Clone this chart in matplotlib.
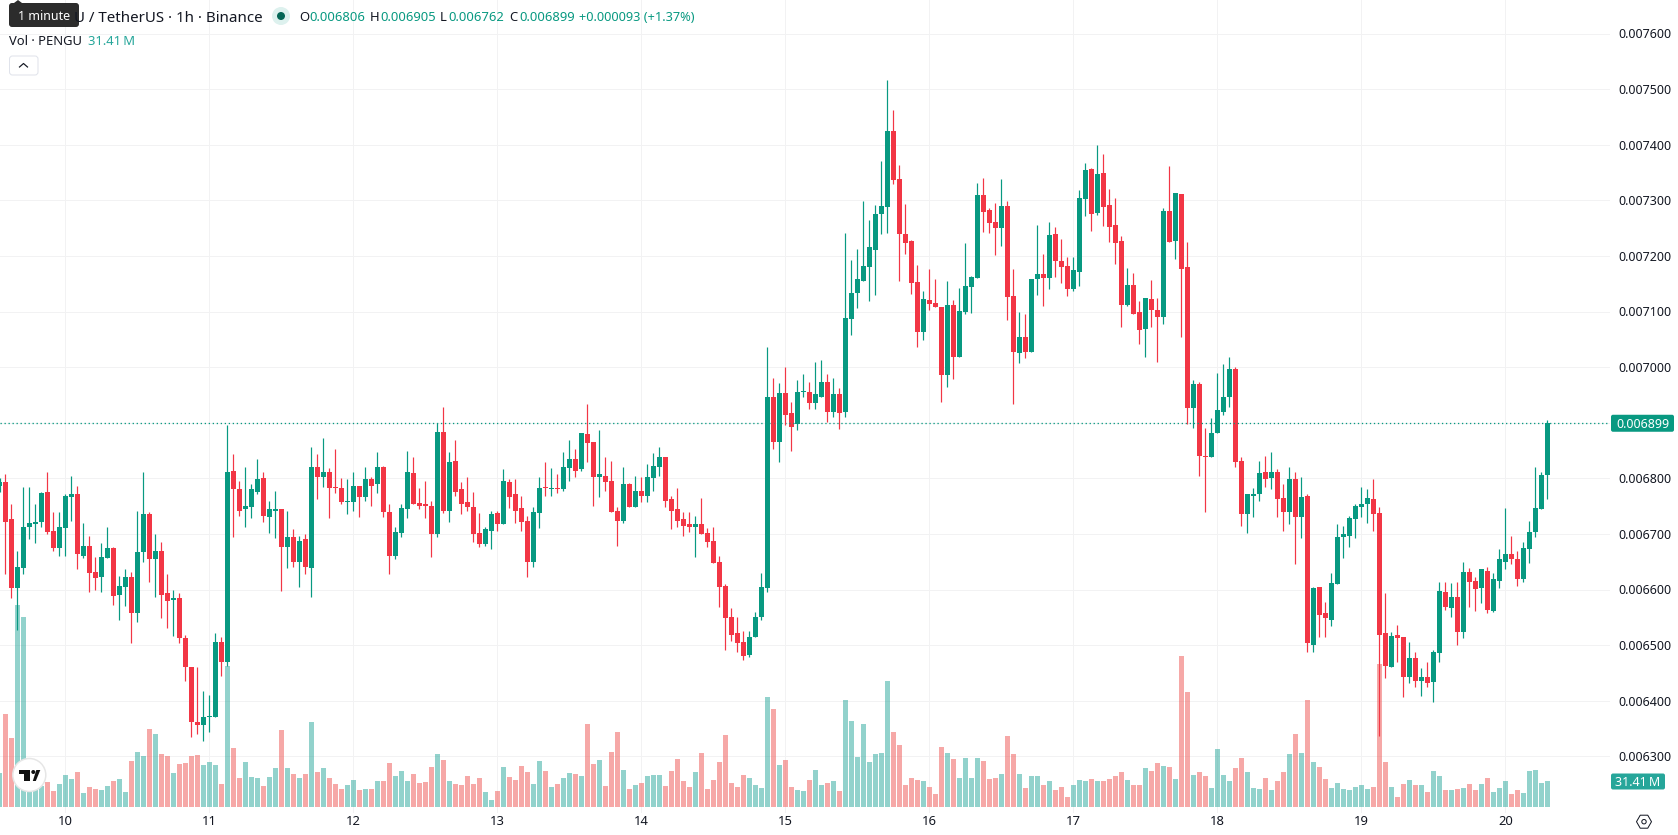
"""Hourly PENGU/USDT candles with volume, drawn in the TradingView light layout."""

import numpy as np
import matplotlib
matplotlib.use("Agg")
import matplotlib.pyplot as plt
from matplotlib.patches import Circle, FancyBboxPatch, Polygon, RegularPolygon
from matplotlib.lines import Line2D
from matplotlib.transforms import IdentityTransform

# prices are in millionths of a USDT, one row per ten hourly candles
opens = [6787,
    6794, 6726, 6602, 6638, 6712, 6717, 6722, 6775, 6706, 6674,
    6710, 6766, 6771, 6661, 6679, 6632, 6622, 6656, 6674, 6591,
    6605, 6623, 6557, 6668, 6735, 6654, 6670, 6593, 6582, 6584,
    6512, 6461, 6362, 6357, 6370, 6370, 6506, 6469, 6814, 6780,
    6744, 6749, 6776, 6800, 6731, 6742, 6744, 6676, 6695, 6649,
    6690, 6638, 6820, 6802, 6811, 6784, 6782, 6757, 6757, 6787,
    6766, 6798, 6789, 6820, 6740, 6661, 6701, 6744, 6809, 6755,
    6753, 6751, 6699, 6883, 6742, 6832, 6780, 6757, 6749, 6701,
    6681, 6706, 6737, 6717, 6794, 6771, 6746, 6724, 6650, 6737,
    6784, 6780, 6782, 6780, 6818, 6834, 6816, 6879, 6865, 6802,
    6805, 6796, 6742, 6724, 6789, 6749, 6778, 6769, 6800, 6821,
    6838, 6762, 6744, 6726, 6717, 6712, 6717, 6701, 6688, 6649,
    6607, 6551, 6521, 6505, 6483, 6514, 6551, 6602, 6947, 6865,
    6953, 6917, 6897, 6955, 6955, 6935, 6947, 6974, 6919, 6951,
    6919, 7086, 7133, 7154, 7180, 7210, 7275, 7288, 7424, 7338,
    7239, 7226, 7153, 7064, 7120, 7115, 7108, 6985, 7111, 7019,
    7099, 7144, 7160, 7309, 7282, 7261, 7250, 7289, 7127, 7025,
    7055, 7028, 7158, 7167, 7160, 7239, 7190, 7181, 7140, 7171,
    7302, 7356, 7277, 7349, 7291, 7255, 7226, 7111, 7147, 7099,
    7068, 7122, 7102, 7091, 7280, 7226, 7311, 7180, 6926, 6969,
    6841, 6839, 6881, 6919, 6946, 6996, 6832, 6735, 6769, 6771,
    6811, 6800, 6812, 6764, 6740, 6798, 6730, 6769, 6501, 6604,
    6557, 6546, 6609, 6695, 6697, 6726, 6749, 6753, 6762, 6737,
    6521, 6461, 6519, 6515, 6442, 6476, 6436, 6442, 6433, 6485,
    6596, 6566, 6587, 6524, 6632, 6616, 6602, 6634, 6562, 6616,
    6650, 6663, 6654, 6618, 6672, 6703, 6744, 6806]

highs = [6800,
    6807, 6753, 6670, 6784, 6784, 6753, 6776, 6811, 6740, 6739,
    6771, 6805, 6787, 6719, 6697, 6658, 6683, 6713, 6676, 6625,
    6636, 6631, 6742, 6812, 6740, 6699, 6685, 6627, 6600, 6593,
    6519, 6461, 6461, 6418, 6411, 6521, 6514, 6895, 6843, 6796,
    6820, 6789, 6834, 6811, 6760, 6778, 6744, 6742, 6708, 6697,
    6699, 6856, 6843, 6872, 6818, 6852, 6800, 6798, 6812, 6787,
    6821, 6803, 6848, 6823, 6753, 6712, 6753, 6850, 6839, 6782,
    6796, 6760, 6899, 6928, 6847, 6868, 6793, 6803, 6775, 6737,
    6713, 6742, 6742, 6816, 6798, 6798, 6769, 6733, 6748, 6803,
    6829, 6818, 6807, 6847, 6868, 6852, 6881, 6933, 6865, 6886,
    6839, 6832, 6748, 6821, 6791, 6805, 6802, 6825, 6845, 6857,
    6838, 6769, 6782, 6739, 6740, 6733, 6764, 6710, 6713, 6661,
    6609, 6566, 6550, 6526, 6526, 6559, 6629, 7036, 6980, 6971,
    7001, 6938, 6976, 6987, 6974, 7010, 7012, 6987, 6980, 6962,
    7241, 7192, 7212, 7298, 7264, 7291, 7370, 7516, 7462, 7363,
    7293, 7228, 7183, 7136, 7176, 7158, 7108, 7154, 7120, 7142,
    7223, 7163, 7331, 7340, 7286, 7295, 7338, 7298, 7176, 7099,
    7095, 7158, 7255, 7203, 7261, 7252, 7230, 7198, 7198, 7318,
    7367, 7358, 7399, 7383, 7320, 7304, 7235, 7178, 7169, 7118,
    7124, 7156, 7124, 7286, 7361, 7313, 7311, 7225, 6976, 6973,
    6890, 6908, 6989, 7005, 7019, 7000, 6838, 6771, 6782, 6832,
    6841, 6848, 6816, 6789, 6820, 6811, 6802, 6771, 6605, 6604,
    6577, 6629, 6717, 6715, 6733, 6753, 6784, 6780, 6798, 6748,
    6593, 6524, 6537, 6515, 6505, 6487, 6458, 6469, 6492, 6614,
    6613, 6611, 6613, 6649, 6638, 6623, 6636, 6641, 6629, 6672,
    6746, 6697, 6670, 6685, 6724, 6821, 6811, 6905]

lows = [6775,
    6627, 6584, 6528, 6627, 6690, 6683, 6712, 6699, 6670, 6661,
    6661, 6724, 6636, 6656, 6596, 6600, 6595, 6656, 6573, 6546,
    6571, 6503, 6541, 6649, 6613, 6586, 6548, 6530, 6517, 6503,
    6436, 6334, 6341, 6328, 6344, 6370, 6445, 6463, 6694, 6733,
    6712, 6728, 6771, 6722, 6701, 6692, 6598, 6638, 6641, 6605,
    6627, 6586, 6762, 6784, 6728, 6773, 6753, 6735, 6742, 6731,
    6760, 6751, 6773, 6730, 6627, 6654, 6694, 6728, 6753, 6744,
    6728, 6658, 6694, 6737, 6722, 6769, 6735, 6742, 6685, 6676,
    6679, 6672, 6706, 6717, 6746, 6719, 6706, 6622, 6640, 6710,
    6769, 6769, 6773, 6778, 6796, 6802, 6814, 6830, 6751, 6767,
    6778, 6740, 6679, 6719, 6749, 6749, 6757, 6758, 6778, 6805,
    6749, 6708, 6712, 6697, 6703, 6659, 6699, 6676, 6647, 6568,
    6492, 6508, 6487, 6474, 6479, 6514, 6546, 6595, 6852, 6830,
    6895, 6850, 6886, 6947, 6924, 6924, 6946, 6902, 6910, 6888,
    6910, 7057, 7106, 7154, 7118, 7129, 7239, 7241, 7329, 7154,
    7203, 7131, 7037, 7048, 7102, 7108, 6937, 6965, 6978, 7019,
    7095, 7097, 7160, 7243, 7241, 7201, 7217, 7084, 6933, 7007,
    7016, 7028, 7129, 7109, 7140, 7162, 7151, 7127, 7136, 7145,
    7271, 7244, 7273, 7253, 7225, 7185, 7073, 7109, 7095, 7041,
    7019, 7072, 7010, 7077, 7225, 7194, 7054, 6897, 6890, 6805,
    6740, 6839, 6881, 6913, 6928, 6820, 6715, 6701, 6731, 6760,
    6784, 6780, 6730, 6706, 6717, 6645, 6692, 6487, 6488, 6514,
    6514, 6535, 6609, 6656, 6676, 6692, 6730, 6719, 6706, 6337,
    6440, 6461, 6470, 6407, 6431, 6425, 6409, 6425, 6397, 6469,
    6564, 6551, 6501, 6512, 6568, 6562, 6575, 6557, 6560, 6602,
    6636, 6645, 6607, 6614, 6647, 6694, 6744, 6762]

closes = [6794,
    6722, 6602, 6640, 6712, 6719, 6722, 6773, 6704, 6674, 6712,
    6769, 6771, 6663, 6679, 6629, 6620, 6658, 6674, 6589, 6607,
    6622, 6557, 6668, 6735, 6654, 6670, 6591, 6580, 6584, 6512,
    6460, 6361, 6357, 6371, 6371, 6506, 6469, 6812, 6780, 6742,
    6751, 6780, 6798, 6733, 6744, 6744, 6676, 6694, 6649, 6688,
    6640, 6820, 6803, 6811, 6782, 6782, 6758, 6758, 6787, 6767,
    6798, 6787, 6820, 6739, 6661, 6703, 6746, 6811, 6753, 6751,
    6751, 6699, 6883, 6742, 6830, 6776, 6753, 6748, 6699, 6681,
    6708, 6735, 6717, 6796, 6767, 6742, 6722, 6650, 6740, 6782,
    6782, 6782, 6780, 6820, 6834, 6814, 6881, 6863, 6802, 6807,
    6794, 6740, 6724, 6789, 6749, 6778, 6769, 6803, 6823, 6838,
    6760, 6742, 6724, 6715, 6713, 6717, 6699, 6685, 6647, 6604,
    6548, 6519, 6503, 6481, 6515, 6551, 6604, 6947, 6866, 6953,
    6913, 6893, 6955, 6956, 6935, 6951, 6974, 6919, 6951, 6917,
    7088, 7133, 7158, 7181, 7216, 7275, 7289, 7424, 7336, 7239,
    7223, 7151, 7064, 7122, 7113, 7108, 6985, 7111, 7019, 7100,
    7145, 7162, 7309, 7279, 7259, 7250, 7289, 7126, 7027, 7055,
    7027, 7158, 7167, 7160, 7237, 7190, 7180, 7140, 7174, 7304,
    7354, 7275, 7347, 7288, 7252, 7223, 7111, 7147, 7095, 7066,
    7124, 7102, 7090, 7280, 7225, 7313, 7176, 6926, 6969, 6841,
    6839, 6881, 6922, 6946, 6996, 6830, 6735, 6771, 6771, 6809,
    6798, 6812, 6762, 6740, 6798, 6730, 6767, 6503, 6602, 6555,
    6548, 6611, 6695, 6699, 6728, 6751, 6753, 6764, 6735, 6519,
    6463, 6517, 6512, 6442, 6476, 6436, 6443, 6431, 6487, 6598,
    6568, 6587, 6523, 6631, 6614, 6600, 6636, 6564, 6618, 6654,
    6663, 6654, 6618, 6674, 6703, 6746, 6806, 6899]

# volume in millions of PENGU
volumes = [41,
    113, 84, 247, 232, 18, 20, 25, 30, 19, 28,
    39, 34, 42, 17, 24, 22, 20, 25, 31, 34,
    18, 56, 67, 62, 95, 89, 64, 62, 41, 52,
    53, 62, 63, 51, 55, 51, 28, 172, 72, 35,
    55, 36, 35, 25, 36, 47, 94, 47, 40, 35,
    40, 104, 42, 47, 35, 28, 22, 26, 33, 20,
    22, 22, 31, 31, 53, 38, 44, 31, 40, 29,
    30, 49, 64, 57, 31, 28, 27, 38, 28, 35,
    18, 8, 19, 49, 36, 33, 50, 42, 28, 56,
    44, 24, 28, 35, 41, 40, 38, 101, 52, 57,
    25, 67, 91, 45, 22, 27, 29, 38, 39, 39,
    25, 44, 58, 31, 24, 42, 66, 22, 33, 55,
    88, 29, 24, 39, 35, 26, 23, 134, 120, 51,
    57, 24, 21, 19, 33, 45, 26, 29, 31, 19,
    131, 105, 61, 101, 55, 65, 66, 154, 92, 75,
    27, 35, 33, 31, 24, 16, 73, 66, 58, 35,
    59, 35, 59, 56, 34, 35, 40, 87, 65, 40,
    23, 38, 37, 27, 31, 21, 24, 12, 26, 33,
    32, 34, 31, 31, 34, 38, 43, 33, 27, 27,
    47, 44, 53, 50, 49, 34, 185, 141, 39, 42,
    38, 23, 71, 39, 32, 47, 59, 43, 23, 22,
    35, 20, 31, 42, 65, 89, 66, 131, 55, 49,
    34, 23, 29, 22, 21, 24, 27, 22, 24, 175,
    55, 24, 12, 28, 33, 27, 26, 18, 44, 37,
    20, 20, 22, 23, 28, 21, 28, 35, 18, 23,
    32, 15, 21, 17, 44, 45, 29, 31.41]

first_hour = -11  # hours counted from the 10th at 00:00
day_labels = ["10", "11", "12", "13", "14", "15", "16", "17", "18", "19", "20"]
price_ticks = [0.0063, 0.0064, 0.0065, 0.0066, 0.0067, 0.0068, 0.0069, 0.0070,
               0.0071, 0.0072, 0.0073, 0.0074, 0.0075, 0.0076]

GREEN = "#089981"
RED = "#F23645"
VOL_GREEN = "#26A69A"
VOL_RED = "#EF5350"
GRID = "#F2F2F3"
INK = "#131722"
TOOLTIP = "#2C2C2C"
W, H = 1678, 835
DPI = 100
FONT = "Noto Sans"


def pt(px):
    return px * 72.0 / DPI


def figxy(x, y):
    # pixel position, counted from the top left, to figure fractions
    return x / W, 1 - y / H


plt.rcParams["font.family"] = FONT

o = np.array(opens) * 1e-6
h = np.array(highs) * 1e-6
l = np.array(lows) * 1e-6
c = np.array(closes) * 1e-6
v = np.array(volumes)
hours = first_hour + np.arange(len(o))
up = c >= o

fig = plt.figure(figsize=(W / DPI, H / DPI), dpi=DPI)
pane_right, pane_bottom = 1610, 813
rect = [0, 1 - pane_bottom / H, pane_right / W, pane_bottom / H]

# three stacked axes: grid and ticks, then volume, then candles on top
ax_grid = fig.add_axes(rect)
ax_vol = fig.add_axes(rect, sharex=ax_grid)
ax_price = fig.add_axes(rect, sharex=ax_grid, sharey=ax_grid)
ax_vol.axis("off")
ax_price.axis("off")

# 6 px per hour, the 10th at x = 65.5 px
ax_grid.set_xlim(-65.5 / 6, (pane_right - 65.5) / 6)
# 55.6 px per 0.0001, 0.0068 at y = 478.3 px
ax_grid.set_ylim(0.0068 - (pane_bottom - 478.3) / 556000, 0.0068 + 478.3 / 556000)
ax_vol.set_ylim(-(pane_bottom - 806.7) / 0.817, 806.7 / 0.817)

for side in ax_grid.spines.values():
    side.set_visible(False)
ax_grid.set_xticks(np.arange(len(day_labels)) * 24)
ax_grid.set_xticklabels(day_labels)
ax_grid.get_xticklabels()[5].set_fontweight("bold")
ax_grid.set_yticks(price_ticks)
ax_grid.set_yticklabels(["%.6f" % p for p in price_ticks])
ax_grid.yaxis.tick_right()
ax_grid.tick_params(axis="x", length=0, pad=pt(2), labelsize=pt(13), labelcolor=INK)
ax_grid.tick_params(axis="y", length=0, pad=pt(8), labelsize=pt(12.5), labelcolor=INK)
ax_grid.grid(True, color=GRID, linewidth=pt(1))
ax_grid.set_axisbelow(True)

# volume bars sit behind the candles
bar_w = 5 / 6
ax_vol.bar(hours, v, width=bar_w, color=np.where(up, VOL_GREEN, VOL_RED),
           alpha=0.5, linewidth=0)

# candles, with dojis kept at least one pixel tall
colors = np.where(up, GREEN, RED)
ax_price.vlines(hours, l, h, colors=colors, linewidth=pt(1.2))
body_low = np.minimum(o, c)
body_h = np.maximum(np.abs(c - o), 1.8e-6)
ax_price.bar(hours, body_h, bottom=body_low, width=bar_w, color=colors, linewidth=0)

# last price line and its tag
ax_price.axhline(c[-1], color=GREEN, linewidth=pt(1.3), linestyle=(0, (1, 2.08)), zorder=1)
px_tf = IdentityTransform()
tag_y = ax_price.transData.transform((0, c[-1]))[1]
fig.add_artist(FancyBboxPatch((1611, tag_y - 8.5), 63, 17,
                              boxstyle="round,pad=0,rounding_size=2",
                              fc=GREEN, ec="none", transform=px_tf))
fig.text(1642.5 / W, tag_y / H, "%.6f" % c[-1], color="white", fontsize=pt(12.5),
         ha="center", va="center_baseline")

# volume tag
vol_label = "%.2f\u2009M" % v[-1]
fig.add_artist(FancyBboxPatch((1611, H - 789.5), 54, 16,
                              boxstyle="round,pad=0,rounding_size=2",
                              fc=VOL_GREEN, ec="none", transform=px_tf))
fig.text(1638 / W, 1 - 781.5 / H, vol_label, color="white", fontsize=pt(12.5),
         ha="center", va="center_baseline")

# legend line with the pair name and OHLC readout, its start sits under the tooltip
x, y = figxy(263, 16)
fig.text(x, y, "U / TetherUS \u00b7 1h \u00b7 Binance", color=INK, fontsize=pt(15.1),
         ha="right", va="center_baseline")
fig.add_artist(Circle((281, H - 16), 9, fc="#DDF1EE", ec="none", transform=px_tf))
fig.add_artist(Circle((281, H - 16), 4, fc="#056656", ec="none", transform=px_tf))

ohlc = [("O", 299, opens[-1]), ("H", 370, highs[-1]), ("L", 440, lows[-1]), ("C", 509, closes[-1])]
for letter, lx, value in ohlc:
    fig.text(lx / W, 1 - 16 / H, letter, color=INK, fontsize=pt(13),
             ha="left", va="center_baseline")
    vx = lx + (10 if letter != "L" else 8)
    fig.text(vx / W, 1 - 16 / H, "%.6f" % (value * 1e-6), color=GREEN, fontsize=pt(13),
             ha="left", va="center_baseline")
change = closes[-1] - closes[-2]
fig.text(579 / W, 1 - 16 / H, "+%.6f (+%.2f%%)" % (change * 1e-6, 100 * change / closes[-2]),
         color=GREEN, fontsize=pt(12.8), ha="left", va="center_baseline")

fig.text(9 / W, 1 - 40 / H, "Vol \u00b7 PENGU", color=INK, fontsize=pt(13),
         ha="left", va="center_baseline")
fig.text(88 / W, 1 - 40 / H, vol_label, color=VOL_GREEN, fontsize=pt(13),
         ha="left", va="center_baseline")

# collapse button
fig.add_artist(FancyBboxPatch((9.5, H - 75), 28.5, 19, boxstyle="round,pad=0,rounding_size=3",
                              fc="white", ec="#E0E3EB", lw=pt(1), transform=px_tf))
fig.add_artist(Line2D([19.5, 23.5, 27.5], [H - 67, H - 63.5, H - 67], color=INK,
                      linewidth=pt(1.2), transform=px_tf))

# tooltip over the start of the legend
fig.add_artist(Polygon([(14, H - 3), (18, H), (22, H - 3)], fc=TOOLTIP, ec="none", transform=px_tf))
fig.add_artist(FancyBboxPatch((9, H - 27), 70, 24, boxstyle="round,pad=0,rounding_size=3",
                              fc=TOOLTIP, ec="none", transform=px_tf))
fig.text(44 / W, 1 - 15.5 / H, "1 minute", color="white", fontsize=pt(12.5),
         ha="center", va="center_baseline")

# round logo badge, bottom left
lx, ly = 29.3, H - 775
fig.add_artist(Circle((lx, ly), 16.5, fc="white", ec="#E6E6E6", lw=pt(1.5), transform=px_tf))
logo_t = [(-10.5, 5), (0.7, 5), (0.7, -6), (-5.5, -6), (-5.5, 1.5), (-10.5, 1.5)]
logo_v = [(3.5, -6), (7, 5), (11, 5), (6.5, -6)]
for shape in (logo_t, logo_v):
    fig.add_artist(Polygon([(lx + a, ly + b) for a, b in shape], fc="#111111", ec="none",
                           transform=px_tf))
fig.add_artist(Circle((lx + 4, ly + 3), 2, fc="#111111", ec="none", transform=px_tf))

# settings hexagon, bottom right
hx, hy = 1644, H - 821.7
fig.add_artist(RegularPolygon((hx, hy), 6, radius=7.5, orientation=np.pi / 2, fc="none", ec=INK,
                              lw=pt(1), transform=px_tf))
fig.add_artist(Circle((hx, hy), 2.2, fc="none", ec=INK, lw=pt(1), transform=px_tf))

fig.savefig("out.png", dpi=DPI, facecolor="white")
